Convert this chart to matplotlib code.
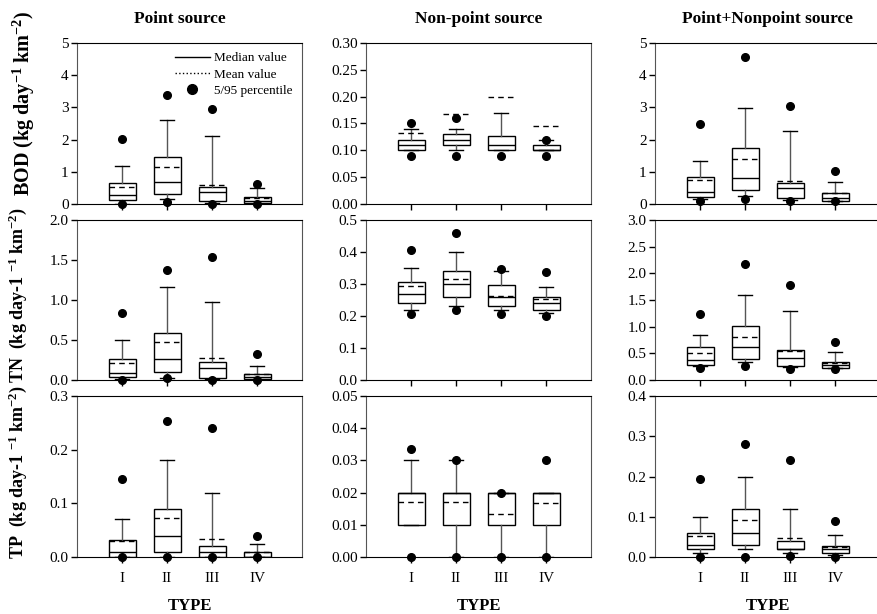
"""Box plots of BOD, TN and TP unit loads by watershed type and source."""

import matplotlib

matplotlib.use("Agg")
import matplotlib.pyplot as plt
import numpy as np
from matplotlib.lines import Line2D
from matplotlib.ticker import FormatStrFormatter, MultipleLocator

TYPES = ["I", "II", "III", "IV"]
SOURCES = ["Point source", "Non-point source", "Point+Nonpoint source"]
POLLUTANTS = ["BOD", "TN", "TP"]

# each stat list is ordered I, II, III, IV
# BOD
BOD_POINT = {
    "p5": [0.0, 0.07, 0.0, 0.0],
    "whislo": [0.0, 0.15, 0.02, 0.0],
    "q1": [0.12, 0.30, 0.08, 0.02],
    "med": [0.28, 0.69, 0.38, 0.10],
    "mean": [0.53, 1.16, 0.60, 0.20],
    "q3": [0.65, 1.45, 0.52, 0.21],
    "whishi": [1.19, 2.61, 2.12, 0.50],
    "p95": [2.02, 3.37, 2.95, 0.63],
}
BOD_NONPOINT = {
    "p5": [0.09, 0.09, 0.09, 0.09],
    "whislo": [0.10, 0.10, 0.10, 0.10],
    "q1": [0.10, 0.11, 0.10, 0.10],
    "med": [0.11, 0.12, 0.11, 0.10],
    "mean": [0.133, 0.167, 0.20, 0.145],
    "q3": [0.12, 0.13, 0.127, 0.11],
    "whishi": [0.14, 0.14, 0.17, 0.12],
    "p95": [0.15, 0.16, np.nan, 0.12],
}
BOD_BOTH = {
    "p5": [0.10, 0.17, 0.10, 0.08],
    "whislo": [0.15, 0.25, 0.12, 0.09],
    "q1": [0.22, 0.43, 0.18, 0.10],
    "med": [0.38, 0.80, 0.50, 0.18],
    "mean": [0.75, 1.40, 0.71, 0.35],
    "q3": [0.85, 1.73, 0.64, 0.33],
    "whishi": [1.33, 2.97, 2.27, 0.67],
    "p95": [2.47, 4.58, 3.05, 1.04],
}
# TN
TN_POINT = {
    "p5": [0.0, 0.02, 0.0, 0.0],
    "whislo": [0.01, 0.03, 0.01, 0.0],
    "q1": [0.04, 0.10, 0.02, 0.01],
    "med": [0.09, 0.26, 0.15, 0.04],
    "mean": [0.21, 0.47, 0.27, 0.08],
    "q3": [0.26, 0.59, 0.22, 0.08],
    "whishi": [0.50, 1.16, 0.98, 0.18],
    "p95": [0.84, 1.38, 1.54, 0.32],
}
TN_NONPOINT = {
    "p5": [0.207, 0.22, 0.205, 0.199],
    "whislo": [0.22, 0.23, 0.22, 0.21],
    "q1": [0.24, 0.26, 0.23, 0.22],
    "med": [0.27, 0.30, 0.26, 0.24],
    "mean": [0.295, 0.315, 0.264, 0.254],
    "q3": [0.305, 0.34, 0.297, 0.26],
    "whishi": [0.35, 0.40, 0.34, 0.29],
    "p95": [0.405, 0.46, 0.347, 0.339],
}
TN_BOTH = {
    "p5": [0.22, 0.27, 0.21, 0.21],
    "whislo": [0.26, 0.33, 0.24, 0.22],
    "q1": [0.28, 0.39, 0.26, 0.225],
    "med": [0.38, 0.61, 0.41, 0.28],
    "mean": [0.51, 0.81, 0.54, 0.31],
    "q3": [0.61, 1.02, 0.555, 0.33],
    "whishi": [0.85, 1.60, 1.29, 0.52],
    "p95": [1.24, 2.18, 1.78, 0.72],
}
# TP
TP_POINT = {
    "p5": [0.0, 0.0, 0.0, 0.0],
    "whislo": [0.0, 0.0, 0.0, 0.0],
    "q1": [0.0, 0.01, 0.0, 0.0],
    "med": [0.01, 0.04, 0.01, 0.0],
    "mean": [0.029, 0.073, 0.034, 0.01],
    "q3": [0.032, 0.09, 0.02, 0.01],
    "whishi": [0.07, 0.18, 0.12, 0.024],
    "p95": [0.145, 0.253, 0.24, 0.04],
}
TP_NONPOINT = {
    "p5": [0.0, 0.0, 0.0, 0.0],
    "whislo": [0.01, 0.0, 0.0, 0.0],
    "q1": [0.01, 0.01, 0.01, 0.01],
    "med": [0.02, 0.02, 0.02, 0.02],
    "mean": [0.0172, 0.0172, 0.0134, 0.0169],
    "q3": [0.02, 0.02, 0.02, 0.02],
    "whishi": [0.03, 0.03, 0.02, 0.02],
    "p95": [0.0335, 0.03, 0.02, 0.03],
}
TP_BOTH = {
    "p5": [0.0, 0.0, 0.002, 0.0],
    "whislo": [0.01, 0.02, 0.01, 0.005],
    "q1": [0.02, 0.03, 0.02, 0.01],
    "med": [0.03, 0.06, 0.02, 0.02],
    "mean": [0.053, 0.093, 0.047, 0.026],
    "q3": [0.06, 0.12, 0.04, 0.028],
    "whishi": [0.10, 0.20, 0.12, 0.054],
    "p95": [0.193, 0.28, 0.24, 0.09],
}

PANELS = [
    [BOD_POINT, BOD_NONPOINT, BOD_BOTH],
    [TN_POINT, TN_NONPOINT, TN_BOTH],
    [TP_POINT, TP_NONPOINT, TP_BOTH],
]
# (ymax, step, format) per panel
AXIS_SPECS = [
    [(5, 1, "%d"), (0.30, 0.05, "%.2f"), (5, 1, "%d")],
    [(2.0, 0.5, "%.1f"), (0.5, 0.1, "%.1f"), (3.0, 0.5, "%.1f")],
    [(0.3, 0.1, "%.1f"), (0.05, 0.01, "%.2f"), (0.4, 0.1, "%.1f")],
]
YLABELS = [
    r"BOD (kg day$^{-1}$ km$^{-2}$)",
    r"TN  (kg day-1 $^{-1}$ km$^{-2}$)",
    r"TP  (kg day-1 $^{-1}$ km$^{-2}$)",
]
YLABEL_SIZES = [14.5, 13, 13]
YLABEL_POS = [(-0.178, 0.627), (-0.215, 0.53), (-0.215, 0.53)]

GREY = "#555555"

plt.rcParams.update(
    {
        "font.family": "Liberation Serif",
        "font.size": 11,
        "mathtext.fontset": "custom",
        "mathtext.rm": "Liberation Serif:bold",
        "mathtext.bf": "Liberation Serif:bold",
        "mathtext.default": "bf",
    }
)

W, H = 877, 614
fig = plt.figure(figsize=(W / 100, H / 100), dpi=100)

col_left = [77, 366, 655]
row_top = [(43, 204), (220, 380), (396, 557)]
axis_w = 225
positions = np.arange(1, len(TYPES) + 1)

for r, (top, bottom) in enumerate(row_top):
    for c, left in enumerate(col_left):
        ax = fig.add_axes([left / W, (H - bottom) / H, axis_w / W, (bottom - top) / H])
        data = PANELS[r][c]
        stats = []
        for i in range(len(TYPES)):
            stats.append(
                {
                    "med": data["med"][i],
                    "q1": data["q1"][i],
                    "q3": data["q3"][i],
                    "whislo": data["whislo"][i],
                    "whishi": data["whishi"][i],
                    "mean": data["mean"][i],
                    "fliers": [],
                }
            )
        ax.bxp(
            stats,
            positions=positions,
            widths=0.6,
            capwidths=0.3,
            showmeans=True,
            meanline=True,
            patch_artist=True,
            boxprops={"facecolor": "white", "edgecolor": "black", "linewidth": 1.0},
            medianprops={"color": "black", "linewidth": 1.0},
            meanprops={"color": "black", "linestyle": (0, (4, 3)), "linewidth": 1.0},
            whiskerprops={"color": GREY, "linewidth": 1.0},
            capprops={"color": "black", "linewidth": 1.0},
        )
        for key in ("p5", "p95"):
            ax.plot(positions, data[key], "o", color="black", markersize=5.5, zorder=5, clip_on=False)

        ymax, step, fmt = AXIS_SPECS[r][c]
        ax.set_xlim(0, 5)
        ax.set_ylim(0, ymax)
        ax.yaxis.set_major_locator(MultipleLocator(step))
        ax.yaxis.set_major_formatter(FormatStrFormatter(fmt))
        ax.set_xticks(positions)
        if r == 2:
            ax.set_xticklabels(TYPES)
            ax.set_xlabel("TYPE", fontsize=12, fontweight="bold", labelpad=9)
        else:
            ax.set_xticklabels([])
        ax.tick_params(direction="out", length=4, width=1, pad=2, labelsize=11)
        ax.tick_params(axis="x", pad=7)
        ax.spines["left"].set_color(GREY)
        ax.spines["right"].set_color(GREY)
        for side in ("top", "bottom"):
            ax.spines[side].set_color("black")

        if c == 0:
            ax.set_ylabel(YLABELS[r], fontsize=YLABEL_SIZES[r], fontweight="bold")
            ax.yaxis.set_label_coords(*YLABEL_POS[r])
        if r == 0:
            title_x = 180 if c == 0 else left + axis_w / 2
            fig.text(title_x / W, 1 - 19 / H, SOURCES[c], ha="center", va="center",
                     fontsize=12.5, fontweight="bold")
        if r == 0 and c == 0:
            handles = [
                Line2D([], [], color="black", linewidth=1.0),
                Line2D([], [], color="black", linestyle=":", linewidth=1.0),
                Line2D([], [], color="black", linestyle="none", marker="o", markersize=7),
            ]
            ax.legend(
                handles,
                ["Median value", "Mean value", "5/95 percentile"],
                loc="upper right",
                frameon=False,
                fontsize=9.5,
                handlelength=2.7,
                handletextpad=0.3,
                labelspacing=0.3,
                borderaxespad=0.6,
                borderpad=0.1,
            )

fig.savefig("out.png", dpi=100)
